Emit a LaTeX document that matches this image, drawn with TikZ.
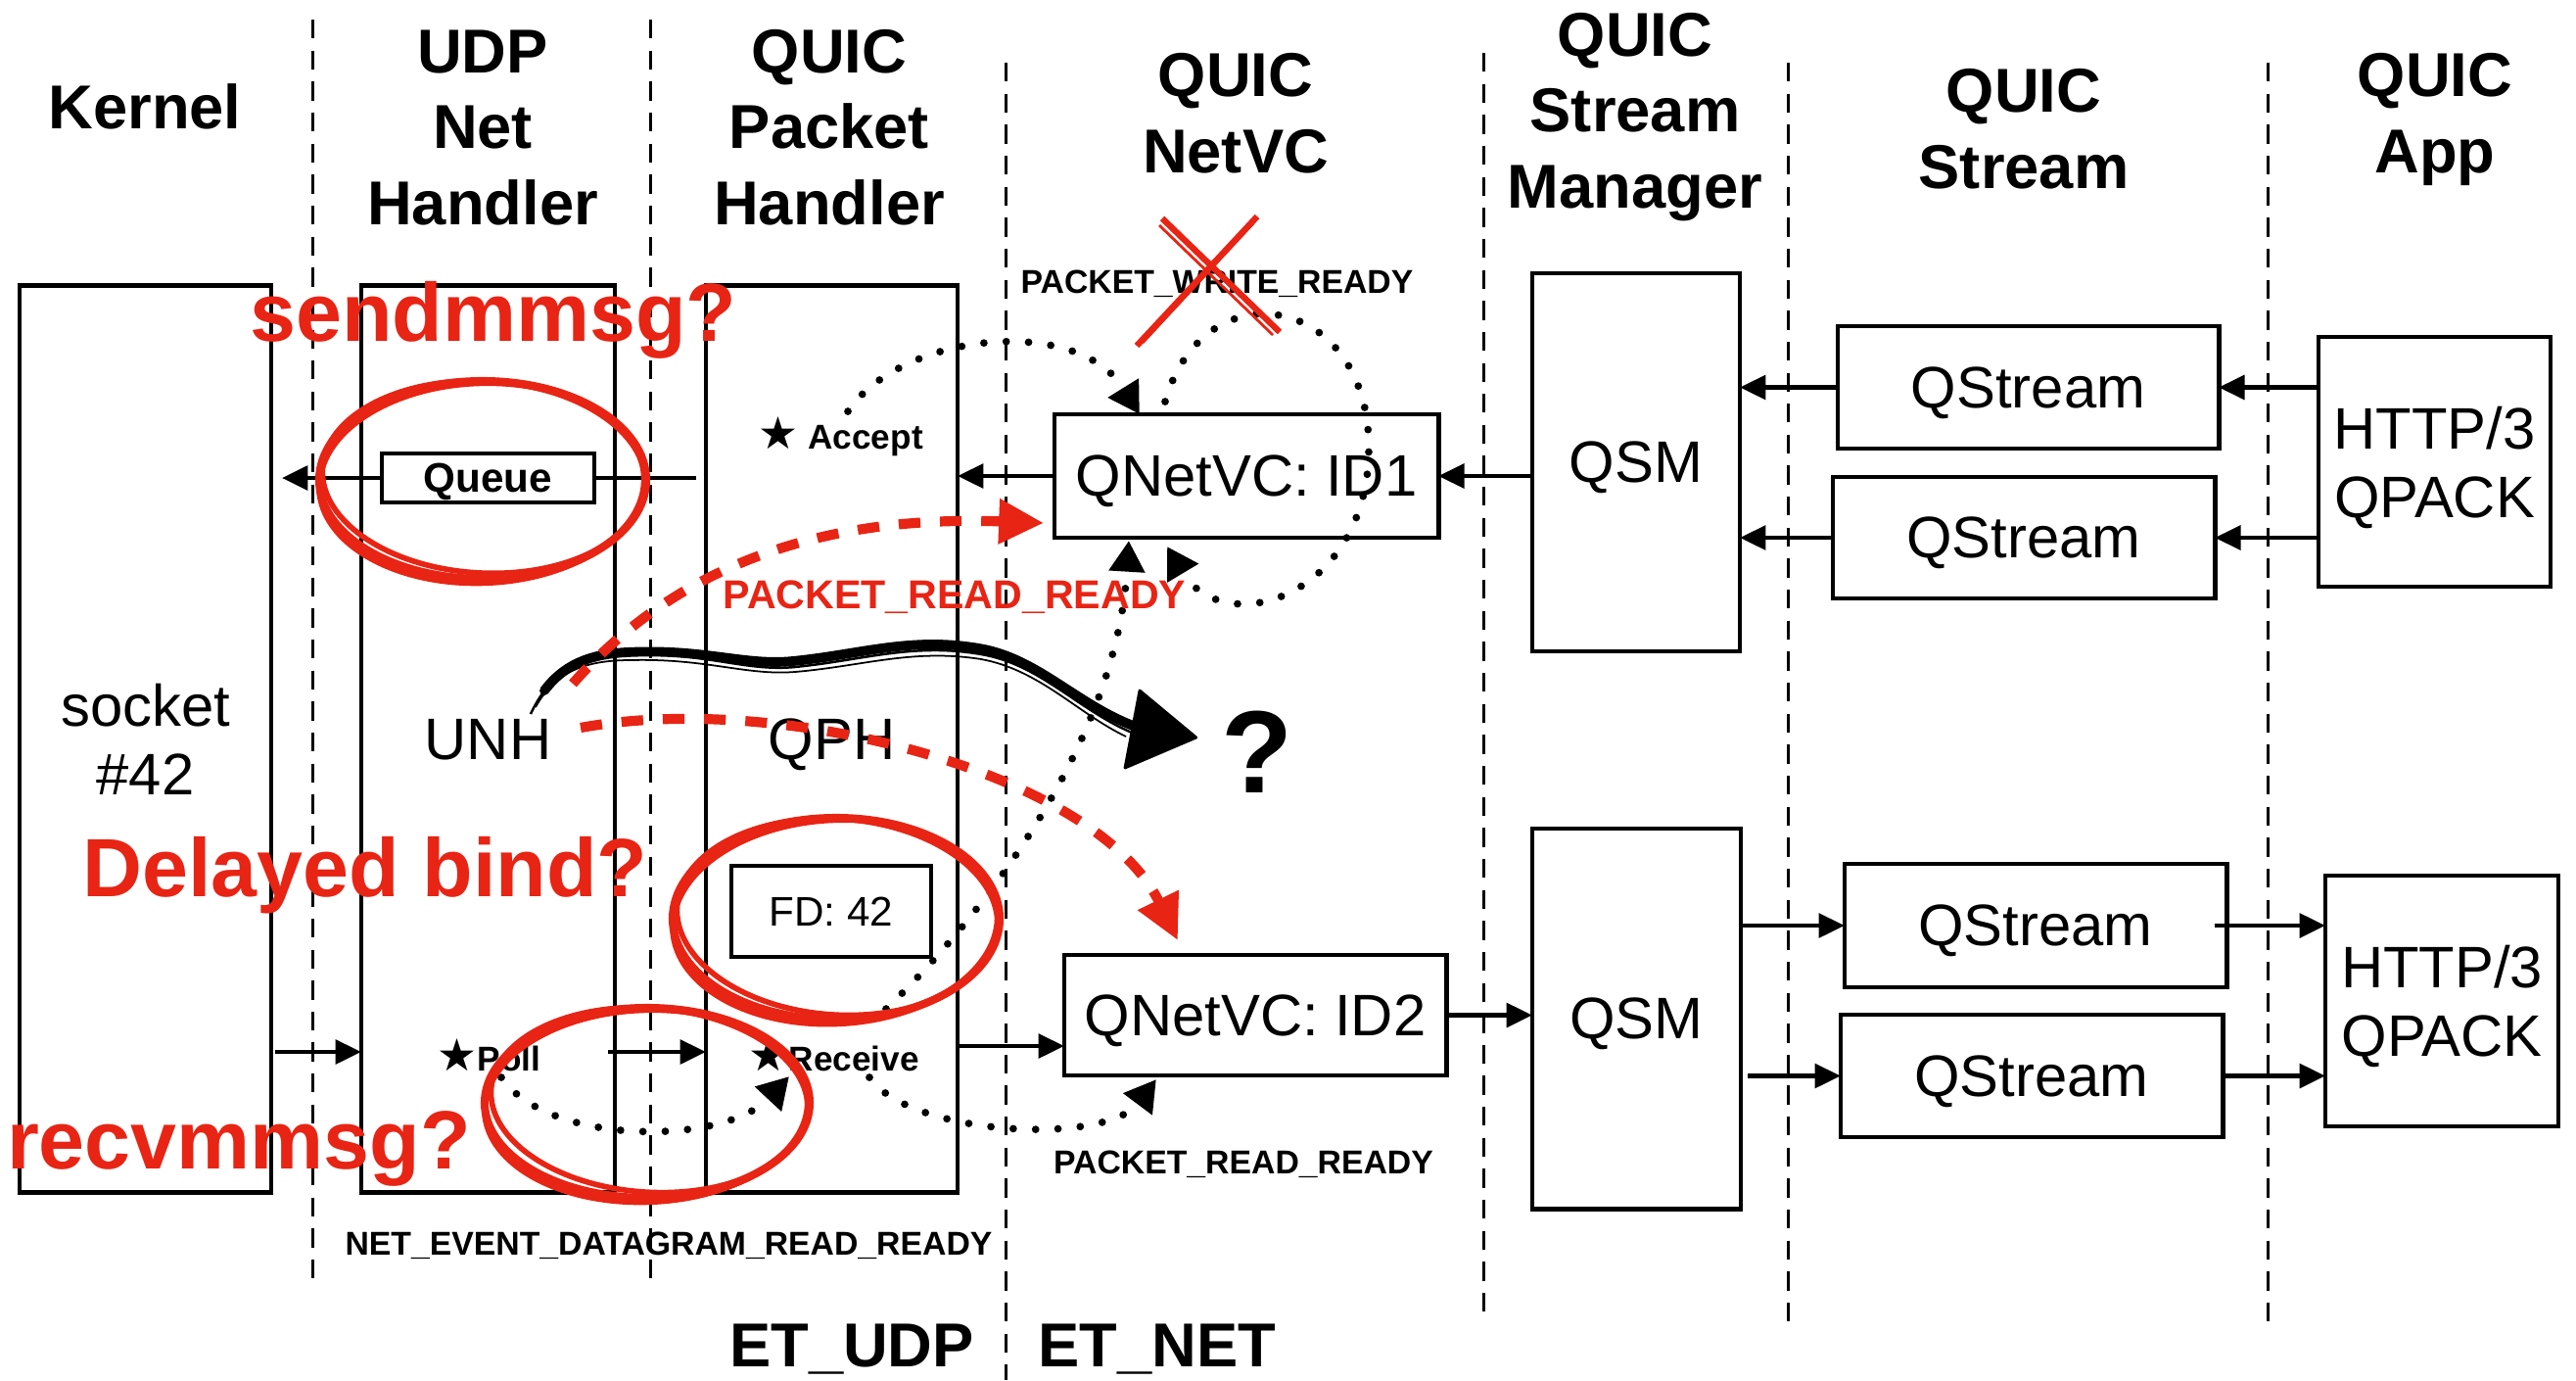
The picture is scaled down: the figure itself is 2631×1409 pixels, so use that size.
\documentclass[tikz,border=0pt]{standalone}
\usepackage{fontspec}
\setmainfont{Liberation Sans}
\newfontfamily\symfont{DejaVu Sans}
\usetikzlibrary{arrows.meta,calc}
\definecolor{annred}{RGB}{232,36,20}
\begin{document}
\begin{tikzpicture}[x=0.01cm,y=-0.01cm,
 box/.style={draw,line width=1.35pt,inner sep=0pt,outer sep=0pt,font=\fontsize{17}{20}\selectfont,align=center,text depth=0pt},
 arr/.style={line width=1.25pt,-{Triangle[length=7.5pt,width=7pt]}},
 sep/.style={line width=0.85pt,dash pattern=on 5.5pt off 3.5pt},
 title/.style={font=\fontsize{18}{21.9}\selectfont\bfseries,align=center,anchor=base,inner sep=0pt},
 evt/.style={font=\fontsize{9.6}{11}\selectfont\bfseries,inner sep=0pt},
 lbl/.style={font=\fontsize{10}{12}\selectfont\bfseries,inner sep=0pt,anchor=west},
 star/.style={},
 dots/.style={line width=2.2pt,line cap=round,dash pattern=on 0pt off 6.5pt},
 dotarr/.style={dots,-{Triangle[length=9pt,width=10pt]}},
 reddash/.style={draw=annred,line width=2.9pt,dash pattern=on 6.3pt off 5.7pt,-{Triangle[length=13pt,width=12.5pt]}},
 scrib/.style={draw=annred,line width=2.3pt},
 redtxt/.style={text=annred,font=\fontsize{24}{28}\selectfont\bfseries,inner sep=0pt,anchor=base},
]
\useasboundingbox (0,0) rectangle (2631,1409);

% separators
\draw[sep] (319,20) -- (319,1314);
\draw[sep] (664,20) -- (664,1314);
\draw[sep] (1027,64) -- (1027,1409);
\draw[sep] (1515,54) -- (1515,1347);
\draw[sep] (1826,64) -- (1826,1359);
\draw[sep] (2316,64) -- (2316,1359);

% titles (anchor base = baseline of last line)
\node[title] (tk) at (148,131) {Kernel};
\node[title] (tu) at (493,229) {UDP\\Net\\Handler};
\node[title] (tp) at (847,229) {QUIC\\Packet\\Handler};
\node[title] (tn) at (1262,176) {QUIC\\NetVC};
\node[title] (tm) at (1670,212) {QUIC\\Stream\\Manager};
\node[title] (ts) at (2067,192) {QUIC\\Stream};
\node[title] (ta) at (2487,176) {QUIC\\App};
\node[title] (etu) at (870,1395) {ET\_UDP};
\node[title] (etn) at (1182,1395) {ET\_NET};

% boxes
\node[box,minimum width=2.57cm,minimum height=9.25cm] (sock) at (148.5,754.5) {socket\\\#42};
\node[box,minimum width=2.59cm,minimum height=9.25cm] (unh) at (498.5,754.5) {UNH};
\node[box,minimum width=2.57cm,minimum height=9.25cm] (qph) at (849.5,754.5) {QPH};
\node[box,line width=0.9pt,minimum width=2.17cm,minimum height=0.5cm,font=\fontsize{12}{14}\selectfont\bfseries] (queue) at (498.5,488) {Queue};
\node[box,minimum width=2.04cm,minimum height=0.93cm,font=\fontsize{12}{14}\selectfont] (fd) at (849,930.5) {FD: 42};
\node[box,minimum width=3.92cm,minimum height=1.26cm] (id1) at (1273,486) {QNetVC: ID1};
\node[box,minimum width=3.90cm,minimum height=1.23cm] (id2) at (1282,1036.5) {QNetVC: ID2};
\node[box,minimum width=2.12cm,minimum height=3.86cm] (qsm1) at (1671,472) {QSM};
\node[box,minimum width=2.13cm,minimum height=3.88cm] (qsm2) at (1671.5,1040) {QSM};
\node[box,minimum width=3.89cm,minimum height=1.25cm] (qs1) at (2071.5,395.5) {QStream};
\node[box,minimum width=3.90cm,minimum height=1.24cm] (qs2) at (2067,549) {QStream};
\node[box,minimum width=2.37cm,minimum height=2.55cm] (h1) at (2486.5,471.5) {HTTP/3\\QPACK};
\node[box,minimum width=3.90cm,minimum height=1.26cm] (qs3) at (2079,945) {QStream};
\node[box,minimum width=3.90cm,minimum height=1.25cm] (qs4) at (2075,1098.5) {QStream};
\node[box,minimum width=2.38cm,minimum height=2.56cm] (h2) at (2494,1022) {HTTP/3\\QPACK};

% solid arrows
\coordinate (qout) at (288,488);
\draw[line width=1.25pt] (queue.east) -- ([xshift=-0.1cm]queue.east -| qph.west);
\draw[arr] (queue.west) -- (qout);
\draw[arr] (id1.west) -- (id1.west -| qph.east);
\draw[arr] (qsm1.west |- id1.east) -- (id1.east);
\draw[arr] (qs1.west) -- (qs1.west -| qsm1.east);
\draw[arr] (qs2.west) -- (qs2.west -| qsm1.east);
\draw[arr] (h1.west |- qs1.east) -- (qs1.east);
\draw[arr] (h1.west |- qs2.east) -- (qs2.east);
\coordinate (pr) at (0,1074);
\draw[arr] ([xshift=0.04cm]sock.east |- pr) -- (unh.west |- pr);
\draw[arr] ([xshift=-0.07cm]unh.east |- pr) -- (qph.west |- pr);
\coordinate (rr) at (0,1068);
\draw[arr] (qph.east |- rr) -- (id2.west |- rr);
\draw[arr] (id2.east) -- (id2.east -| qsm2.west);
\draw[arr] (qsm2.east |- qs3.west) -- (qs3.west);
\draw[arr] ([xshift=0.07cm]qsm2.east |- qs4.west) -- (qs4.west);
\draw[arr] ([xshift=-0.12cm]qs3.east) -- (qs3.east -| h2.west);
\draw[arr] (qs4.east) -- (qs4.east -| h2.west);

% labels
\node[lbl] (acc) at (774,446) {{\symfont\fontsize{13}{13}\selectfont ★} Accept};
\node[lbl] (poll) at (446,1077) {{\symfont\fontsize{13}{13}\selectfont ★}Poll};
\node[lbl] (recv) at (764,1077) {{\symfont\fontsize{13}{13}\selectfont ★}Receive};
\node[evt] (pwr) at (1243,290) {PACKET\_WRITE\_READY};
\node[evt] (nedr) at (683,1272) {NET\_EVENT\_DATAGRAM\_READ\_READY};
\node[evt] (prr) at (1270,1189) {PACKET\_READ\_READY};
\node[font=\fontsize{34}{36}\selectfont\bfseries,inner sep=0pt] (qm) at (1284,768) {?};

% dotted event paths
\draw[dotarr] (866,420) .. controls (920,340) and (1100,320) .. ($(id1.north west)+(87,0)$);
\draw[dotarr] (1190,410) .. controls (1230,270) and (1400,300) .. (1398,460) .. controls (1396,610) and (1250,655) .. (1192,558);
\draw[dotarr] (905,1030) .. controls (1000,940) and (1140,760) .. ($(id1.south west)+(76,3)$);
\draw[dotarr] (512,1100) .. controls (560,1170) and (740,1170) .. (806,1099);
\draw[dotarr] (888,1100) .. controls (930,1160) and (1130,1170) .. ($(id2.south west)+(94,4)$);

% sketchy black arrow
\draw[line width=2.8pt,line cap=round] (556,705) .. controls (575,680) and (600,668) .. (640,666) .. controls (720,662) and (760,680) .. (810,675) .. controls (880,668) and (930,650) .. (1000,662) .. controls (1060,672) and (1100,720) .. (1160,742);
\draw[line width=0.7pt] (542,729) .. controls (560,690) and (590,668) .. (640,668) .. controls (722,666) and (762,686) .. (812,681) .. controls (882,674) and (932,656) .. (1002,668) .. controls (1062,678) and (1100,724) .. (1156,748);
\draw[line width=0.5pt] (547,722) .. controls (566,688) and (594,674) .. (644,674) .. controls (722,672) and (762,690) .. (812,686) .. controls (882,680) and (932,662) .. (1002,673) .. controls (1062,684) and (1100,728) .. (1150,752);
\filldraw[line width=0.8pt,line join=round] (1164,705) -- ($(qm.west)+(-25,-15)$) -- (1149,784) -- cycle;

% red annotations
\draw[reddash] (585,698) .. controls (680,590) and (820,525) .. ($(id1.west)+(-11,48)$);
\draw[reddash] (593,743) .. controls (800,705) and (1120,790) .. ($(id2.north west)+(116,-15)$);
\node[evt,text=annred,font=\fontsize{11.7}{13}\selectfont\bfseries] (rprr) at (975,610) {PACKET\_READ\_READY};
\node[redtxt] (smm) at (504,348) {sendmmsg?};
\node[redtxt] (dbd) at (373,915) {Delayed bind?};
\node[redtxt] (rmm) at (244,1193) {recvmmsg?};

\draw[scrib] (493,490) ellipse [x radius=167, y radius=101];
\draw[scrib,line width=1.6pt,rotate around={-3:(493,490)}] (494,487) ellipse [x radius=165, y radius=98];
\draw[scrib,line width=1.8pt,rotate around={2:(493,490)}] (492,493) ellipse [x radius=166, y radius=102];

\draw[scrib] (854,938) ellipse [x radius=167, y radius=103];
\draw[scrib,line width=1.6pt,rotate around={-4:(854,938)}] (855,936) ellipse [x radius=164, y radius=100];
\draw[scrib,line width=1.8pt,rotate around={3:(854,938)}] (853,941) ellipse [x radius=166, y radius=104];

\draw[scrib] (661,1126) ellipse [x radius=166, y radius=97];
\draw[scrib,line width=1.6pt,rotate around={-4:(661,1126)}] (663,1123) ellipse [x radius=162, y radius=94];
\draw[scrib,line width=1.8pt,rotate around={2:(661,1126)}] (660,1129) ellipse [x radius=165, y radius=98];

\draw[annred,line width=1.8pt] (1161,353) -- (1284,221);
\draw[annred,line width=0.8pt] (1167,350) -- (1280,228);
\draw[annred,line width=1.8pt] (1187,223) -- (1307,339);
\draw[annred,line width=0.8pt] (1184,230) -- (1300,342);
\end{tikzpicture}
\end{document}
